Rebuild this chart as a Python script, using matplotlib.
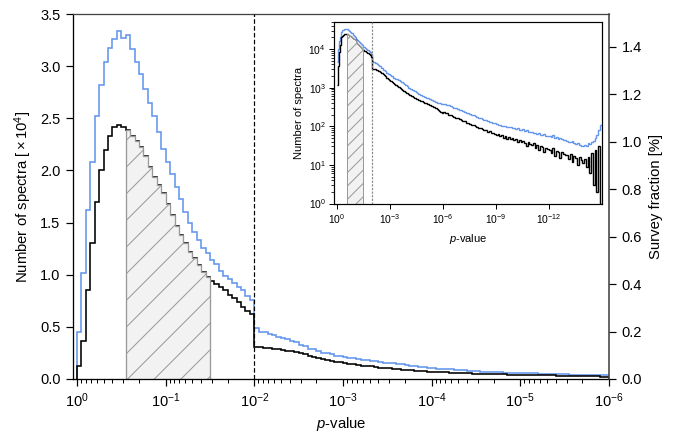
import numpy as np
import matplotlib
matplotlib.use('Agg')
import matplotlib.pyplot as plt
from matplotlib.ticker import MultipleLocator, NullLocator, LogLocator, NullFormatter

DPI = 160
PX = 72 / DPI  # one pixel in points

plt.rcParams['font.family'] = ['Liberation Sans', 'DejaVu Sans']
plt.rcParams['mathtext.fontset'] = 'custom'
plt.rcParams['mathtext.rm'] = 'Liberation Sans'
plt.rcParams['mathtext.it'] = 'Liberation Sans:italic'
plt.rcParams['mathtext.bf'] = 'Liberation Sans:bold'
plt.rcParams['hatch.linewidth'] = 1.0 * PX

# ---- data ----
# histogram in -log10(p), bins of 0.05 decade from p=1 to p=1e-6, units of 1e4 spectra
bin_width = 0.05
black_main = [
    0.12, 0.36, 0.85, 1.30, 1.70, 2.00, 2.20, 2.33, 2.42, 2.44,
    2.42, 2.39, 2.33, 2.28, 2.22, 2.14, 2.03, 1.94, 1.86, 1.78,
    1.68, 1.57, 1.47, 1.38, 1.30, 1.22, 1.16, 1.09, 1.03, 0.98,
    0.94, 0.91, 0.88, 0.85, 0.81, 0.78, 0.74, 0.69, 0.65, 0.62,
    0.31, 0.305, 0.30, 0.295, 0.29, 0.285, 0.28, 0.272, 0.265, 0.255,
    0.245, 0.235, 0.225, 0.21, 0.20, 0.19, 0.18, 0.175, 0.165, 0.16,
    0.152, 0.147, 0.14, 0.135, 0.128, 0.124, 0.12, 0.115, 0.11, 0.106,
    0.102, 0.098, 0.095, 0.09, 0.086, 0.083, 0.08, 0.077, 0.074, 0.071,
    0.069, 0.067, 0.065, 0.063, 0.061, 0.059, 0.057, 0.055, 0.054, 0.052,
    0.051, 0.05, 0.048, 0.047, 0.046, 0.045, 0.044, 0.043, 0.042, 0.041,
    0.04, 0.039, 0.038, 0.037, 0.036, 0.035, 0.034, 0.034, 0.033, 0.032,
    0.031, 0.03, 0.029, 0.028, 0.027, 0.026, 0.025, 0.024, 0.023, 0.022,
]
blue_main = [
    0.45, 1.02, 1.62, 2.08, 2.52, 2.82, 3.04, 3.17, 3.26, 3.34,
    3.27, 3.30, 3.16, 3.04, 2.92, 2.78, 2.65, 2.52, 2.37, 2.21,
    2.08, 1.97, 1.84, 1.73, 1.60, 1.50, 1.41, 1.33, 1.26, 1.21,
    1.14, 1.10, 1.04, 0.99, 0.96, 0.92, 0.88, 0.85, 0.80, 0.76,
    0.49, 0.455, 0.45, 0.43, 0.425, 0.40, 0.395, 0.38, 0.36, 0.355,
    0.33, 0.315, 0.29, 0.285, 0.265, 0.25, 0.245, 0.24, 0.225, 0.225,
    0.21, 0.205, 0.20, 0.19, 0.18, 0.18, 0.17, 0.168, 0.165, 0.158,
    0.156, 0.15, 0.148, 0.14, 0.136, 0.128, 0.126, 0.118, 0.116, 0.108,
    0.106, 0.10, 0.099, 0.094, 0.093, 0.088, 0.087, 0.083, 0.081, 0.077,
    0.075, 0.071, 0.07, 0.067, 0.066, 0.063, 0.062, 0.06, 0.059, 0.057,
    0.057, 0.055, 0.055, 0.053, 0.052, 0.05, 0.05, 0.048, 0.047, 0.045,
    0.045, 0.043, 0.043, 0.041, 0.041, 0.04, 0.04, 0.039, 0.038, 0.038,
]
# inset tail beyond p=1e-6, bins of 0.1 decade, counts of spectra
tail_width = 0.1
black_tail = [
    232, 220, 214, 200, 196, 182, 178, 166, 160, 152,
    146, 138, 134, 124, 122, 114, 110, 106, 100, 98,
    92, 90, 84, 80, 78, 72, 74, 66, 68, 62,
    60, 64, 55, 58, 50, 56, 48, 52, 46, 50,
    44, 48, 40, 45, 38, 42, 36, 30, 40, 35,
    33, 36, 28, 32, 24, 30, 29, 22, 27, 26,
    25, 20, 27, 17, 23, 21, 15, 22, 19, 18,
    18, 14, 19, 12, 17, 15, 10, 16, 13, 11,
    14, 9, 16, 6, 20, 3, 25, 2, 30, 1,
]
blue_tail = [
    385, 370, 352, 345, 328, 318, 300, 292, 278, 268,
    258, 245, 240, 226, 218, 208, 200, 190, 182, 174,
    168, 160, 156, 148, 144, 136, 132, 126, 122, 118,
    114, 110, 108, 104, 100, 103, 96, 93, 97, 90,
    88, 86, 90, 82, 80, 84, 76, 78, 73, 72,
    70, 66, 68, 63, 65, 60, 58, 62, 56, 55,
    56, 53, 58, 50, 52, 48, 49, 46, 44, 45,
    42, 40, 38, 41, 36, 34, 37, 32, 30, 31,
    33, 30, 36, 34, 40, 42, 50, 60, 78, 105,
]
hatch_lo, hatch_hi = 10 ** -1.5, 10 ** -0.55   # shaded p-value range
cut_p = 1e-2                                  # dashed threshold
survey_total = 2.274e6                        # spectra in survey (for % axis)
main_xticks = [1e0, 1e-1, 1e-2, 1e-3, 1e-4, 1e-5, 1e-6]
inset_xticks = [1e0, 1e-3, 1e-6, 1e-9, 1e-12]

BLUE = '#6495ed'

# bin edges
log_edges = -bin_width * np.arange(len(black_main) + 1)
p_edges = 10.0 ** log_edges
tail_edges = 10.0 ** (log_edges[-1] - tail_width * np.arange(len(black_tail) + 1))

black_main = np.array(black_main)
blue_main = np.array(blue_main)
inset_edges = np.concatenate([p_edges, tail_edges[1:]])
inset_black = np.concatenate([black_main * 1e4, black_tail])
inset_blue = np.concatenate([blue_main * 1e4, blue_tail])

# bins inside the shaded range
inside = (p_edges[:-1] <= hatch_hi * 1.0001) & (p_edges[1:] >= hatch_lo * 0.9999)
idx = np.where(inside)[0]
sel_edges = p_edges[idx[0]: idx[-1] + 2]
sel_black = black_main[idx[0]: idx[-1] + 1]

# ---- figure ----
fig = plt.figure(figsize=(690 / DPI, 439 / DPI), dpi=DPI)
ax = fig.add_axes([73 / 690, 1 - 379 / 439, 536 / 690, 365 / 439])

ax.stairs(blue_main, p_edges, baseline=0, color=BLUE, lw=1.6 * PX, zorder=2)
ax.stairs(black_main, p_edges, baseline=0, color='k', lw=1.6 * PX, zorder=2.2)
ax.stairs(sel_black, sel_edges, baseline=0, fill=True, facecolor='#f2f2f2',
          edgecolor='#999999', hatch='//', linewidth=1.3 * PX, zorder=2.5)
ax.axvline(cut_p, color='k', lw=1.2 * PX, ls=(0, (3.8, 1.9)), zorder=3)

ax.set_xscale('log')
ax.set_xlim(10 ** 0.045, 1e-6)
ax.set_ylim(0, 3.5)
ax.set_xticks(main_xticks)
ax.xaxis.set_minor_locator(LogLocator(base=10, subs=np.arange(2, 10)))
ax.xaxis.set_minor_formatter(NullFormatter())
ax.yaxis.set_major_locator(MultipleLocator(0.5))
ax.set_xlabel('$p$-value', fontsize=6.7, labelpad=2)
ax.set_ylabel('Number of spectra [${}\\times 10^4$]', fontsize=6.7, labelpad=2.5)
ax.tick_params(which='major', length=7 * PX, width=1.2 * PX, labelsize=6.6, pad=2.5)
ax.tick_params(which='minor', length=4 * PX, width=1.0 * PX)
ax.spines['right'].set_visible(False)
ax.spines['top'].set_color('#444444')
for s in ['left', 'bottom', 'top']:
    ax.spines[s].set_linewidth(1.3 * PX)

ax2 = ax.twinx()
ax2.set_ylim(0, 3.5e4 / survey_total * 100)
ax2.yaxis.set_major_locator(MultipleLocator(0.2))
ax2.set_ylabel('Survey fraction [%]', fontsize=6.7, labelpad=3)
ax2.tick_params(length=7 * PX, width=1.2 * PX, labelsize=6.6, pad=2.5)
for s in ['left', 'bottom', 'top']:
    ax2.spines[s].set_visible(False)
ax2.spines['right'].set_color('#444444')
ax2.spines['right'].set_linewidth(1.6 * PX)

# ---- inset ----
axin = fig.add_axes([334 / 690, 1 - 203.5 / 439, 267.7 / 690, 181.5 / 439])
axin.stairs(inset_blue, inset_edges, baseline=None, color=BLUE, lw=1.4 * PX)
axin.stairs(inset_black, inset_edges, baseline=None, color='k', lw=1.4 * PX)
axin.stairs(sel_black * 1e4, sel_edges, baseline=1, fill=True, facecolor='#f2f2f2',
            edgecolor='#999999', hatch='////', linewidth=1.0 * PX, zorder=2.5)
axin.axvline(cut_p, color='#888888', lw=1.2 * PX, ls=(0, (1.8, 1.2)), zorder=3)
axin.set_xscale('log')
axin.set_yscale('log')
axin.set_xlim(10 ** 0.17, 1e-15)
axin.set_ylim(1, 5e4)
axin.set_xticks(inset_xticks)
axin.xaxis.set_minor_locator(NullLocator())
axin.set_xlabel('$p$-value', fontsize=5.0, labelpad=2.8)
axin.set_ylabel('Number of spectra', fontsize=5.0, labelpad=2)
axin.tick_params(which='major', length=5 * PX, width=1.0 * PX, labelsize=4.6, pad=1.5)
axin.tick_params(which='minor', length=3 * PX, width=0.8 * PX)
for s in axin.spines.values():
    s.set_linewidth(1.2 * PX)

fig.savefig('out.png', dpi=DPI)
